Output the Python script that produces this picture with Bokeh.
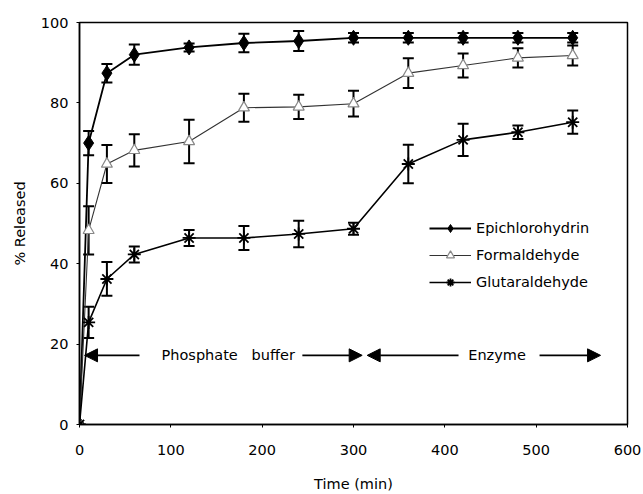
from bokeh.plotting import figure
from bokeh.models import (Range1d, Whisker, TeeHead, ColumnDataSource, Legend, LegendItem,
                          Arrow, NormalHead, Label, FixedTicker)
from bokeh.embed import file_html
from bokeh.resources import INLINE

time = [0, 10, 30, 60, 120, 180, 240, 300, 360, 420, 480, 540]
epi = [0, 70, 87.4, 92, 93.8, 94.9, 95.4, 96.2, 96.2, 96.2, 96.2, 96.2]
epi_err = [0, 3, 2.3, 2.5, 1, 2.3, 2.5, 1.2, 1.2, 1.2, 1.2, 1.2]
form = [0, 48.3, 64.8, 68.2, 70.4, 78.8, 79, 79.8, 87.4, 89.3, 91.2, 91.8]
form_err = [0, 6, 4.7, 4, 5.4, 3.5, 3, 3.2, 3.7, 3, 2.4, 2.5]
glut = [0, 25.4, 36.2, 42.3, 46.4, 46.4, 47.4, 48.7, 64.8, 70.8, 72.7, 75.2]
glut_err = [0, 3.9, 4.2, 2, 2, 3, 3.3, 1.5, 4.8, 4, 1.7, 2.9]
series_names = ["Epichlorohydrin", "Formaldehyde", "Glutaraldehyde"]
x_ticks = [0, 100, 200, 300, 400, 500, 600]
y_ticks = [0, 20, 40, 60, 80, 100]
phase_labels = ["Phosphate\u00a0\u00a0 buffer", "Enzyme"]
phase_arrows = [(65.7, 5.5), (244, 309.5), (415, 315), (503.7, 570.5)]
phase_y = 17.2
phase_label_x = [89.8, 425.6]

FONT = "DejaVu Sans"
FS = "14.5px"

p = figure(width=643, height=494, output_backend="svg", toolbar_location=None,
           x_range=Range1d(0, 600), y_range=Range1d(0, 100),
           min_border_left=79, min_border_top=22, min_border_right=16, min_border_bottom=70)
p.xgrid.visible = False
p.ygrid.visible = False
p.outline_line_color = "black"
p.outline_line_width = 1.5
p.background_fill_color = "white"
p.border_fill_color = "white"

for ax in (p.xaxis[0], p.yaxis[0]):
    ax.axis_line_color = "black"
    ax.axis_line_width = 1.5
    ax.major_tick_in = 0
    ax.major_tick_out = 3
    ax.minor_tick_line_color = None
    ax.major_label_text_font = FONT
    ax.major_label_text_font_size = FS
    ax.major_label_text_color = "black"
    ax.axis_label_text_font = FONT
    ax.axis_label_text_font_size = FS
    ax.axis_label_text_font_style = "normal"
    ax.axis_label_text_color = "black"
p.xaxis.ticker = FixedTicker(ticks=x_ticks)
p.yaxis.ticker = FixedTicker(ticks=y_ticks)
p.xaxis.axis_label = "Time (min)"
p.yaxis.axis_label = "% Released"
p.xaxis.major_label_standoff = 17
p.xaxis.axis_label_standoff = 18
p.yaxis.major_label_standoff = 8
p.yaxis.axis_label_standoff = 10

def add_whiskers(y, err, color):
    xs, lo, hi = [], [], []
    for t, v, e in zip(time, y, err):
        if e > 0:
            xs.append(t); lo.append(v - e); hi.append(v + e)
    src = ColumnDataSource(dict(x=xs, lower=lo, upper=hi))
    w = Whisker(source=src, base="x", lower="lower", upper="upper",
                line_color=color, line_width=2,
                upper_head=TeeHead(size=11, line_width=2, line_color=color),
                lower_head=TeeHead(size=11, line_width=2, line_color=color))
    p.add_layout(w)

add_whiskers(epi, epi_err, "black")
add_whiskers(form, form_err, "black")
add_whiskers(glut, glut_err, "black")

l1 = p.line(time, epi, line_color="black", line_width=1.8)
m1 = p.scatter(time, epi, marker="diamond", size=15, fill_color="black", line_color="black")
l2 = p.line(time, form, line_color="#333333", line_width=1.1)
m2 = p.scatter(time, form, marker="triangle", size=11, fill_color="white", line_color="#888888", line_width=1.2)
l3 = p.line(time, glut, line_color="black", line_width=1.6)
m3 = p.scatter(time, glut, marker="asterisk", size=13, line_color="black", line_width=1.8)

legend = Legend(items=[LegendItem(label=series_names[0], renderers=[l1, m1]),
                       LegendItem(label=series_names[1], renderers=[l2, m2]),
                       LegendItem(label=series_names[2], renderers=[l3, m3])],
                location=(350, 132), orientation="vertical",
                glyph_width=42, glyph_height=20, label_height=20, spacing=7,
                label_standoff=5, padding=0, margin=0,
                border_line_alpha=0, background_fill_alpha=0,
                label_text_font=FONT, label_text_font_size=FS, label_text_color="black")
p.add_layout(legend)

for (x0, x1) in phase_arrows:
    p.add_layout(Arrow(x_start=x0, y_start=phase_y, x_end=x1, y_end=phase_y,
                       line_color="black", line_width=1.8,
                       end=NormalHead(size=13, fill_color="black", line_color="black")))
for lbl, lx in zip(phase_labels, phase_label_x):
    p.add_layout(Label(x=lx, y=phase_y, text=lbl, text_font=FONT, text_font_size=FS,
                       text_baseline="middle", text_align="left", text_color="black"))

open("out.html", "w").write(file_html(p, INLINE))
